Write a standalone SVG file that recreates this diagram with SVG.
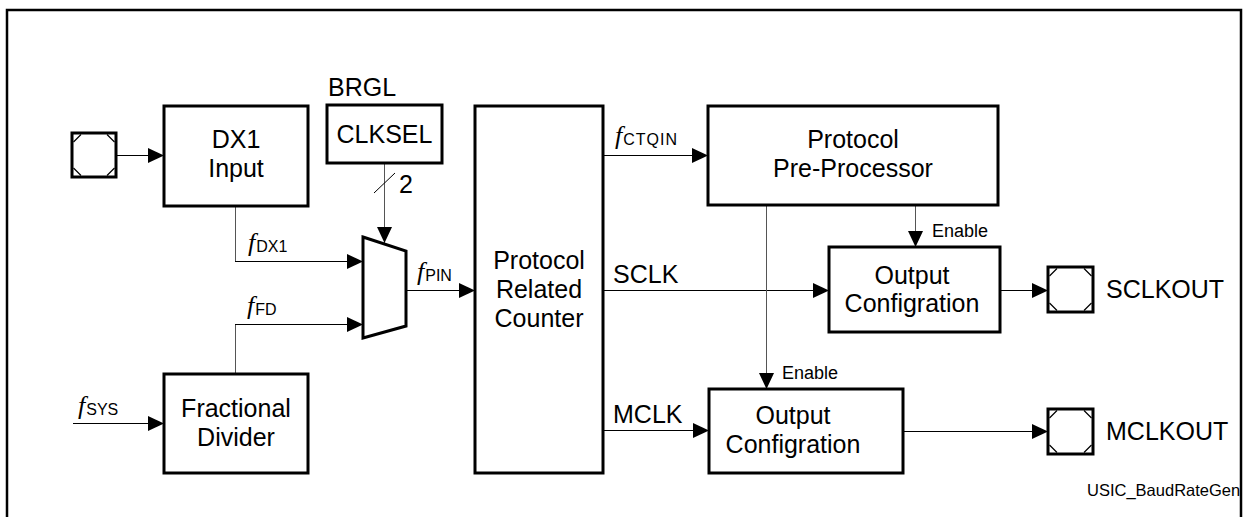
<svg xmlns="http://www.w3.org/2000/svg" width="1244" height="517" viewBox="0 0 1244 517">
<defs>
<style>
.box{fill:#fff;stroke:#000;stroke-width:3}
.t{font-family:"Liberation Sans",Arial,sans-serif;font-size:25px;fill:#000}
.tc{text-anchor:middle}
.sm{font-family:"Liberation Sans",Arial,sans-serif;font-size:18px;fill:#000}
.fi{font-family:"Liberation Serif","Times New Roman",serif;font-style:italic;font-size:26px}
.sub{font-family:"Liberation Sans",Arial,sans-serif;font-size:16px}
.ln{fill:none;stroke:#000;stroke-width:1}
.lg{fill:none;stroke:#555;stroke-width:1}
.pad{fill:#fff;stroke:#000;stroke-width:3}
.padc{stroke:#000;stroke-width:1.2}
</style>
<marker id="ah" markerUnits="userSpaceOnUse" markerWidth="16" markerHeight="15" refX="16" refY="7.5" orient="auto">
<path d="M0,0 L16,7.5 L0,15 z" fill="#000"/>
</marker>
</defs>
<rect width="1244" height="517" fill="#fff"/>
<text class="t" x="1087" y="496" style="font-size:16.5px">USIC_BaudRateGen</text>
<path d="M7,517 V10 H1241 V517" fill="none" stroke="#000" stroke-width="2.5"/>

<g id="connectors">
<path class="ln" d="M116,155.5 H164" marker-end="url(#ah)"/>
<path class="lg" d="M235.5,206 V261.5"/><path class="ln" d="M235,261.5 H363" marker-end="url(#ah)"/>
<path class="lg" d="M235.5,374 V324.5"/><path class="ln" d="M235,324.5 H363" marker-end="url(#ah)"/>
<path class="ln" d="M73,423.5 H164" marker-end="url(#ah)"/>
<path class="lg" d="M384.5,163 V243" marker-end="url(#ah)"/>
<path class="ln" d="M374,193 L395,173"/>
<path class="ln" d="M406,290.5 H475" marker-end="url(#ah)"/>
<path class="ln" d="M603,155.5 H708" marker-end="url(#ah)"/>
<path class="ln" d="M603,290.5 H829" marker-end="url(#ah)"/>
<path class="ln" d="M603,430.5 H709" marker-end="url(#ah)"/>
<path class="lg" d="M766.5,205 V389" marker-end="url(#ah)"/>
<path class="lg" d="M915.5,205 V247" marker-end="url(#ah)"/>
<path class="ln" d="M1000,290.5 H1048" marker-end="url(#ah)"/>
<path class="ln" d="M903,431.5 H1048" marker-end="url(#ah)"/>
</g>

<g id="labels">
<text x="248" y="251"><tspan class="fi">f</tspan><tspan class="sub" dx="1" dy="1">DX1</tspan></text>
<text x="247" y="314"><tspan class="fi">f</tspan><tspan class="sub" dx="1" dy="1">FD</tspan></text>
<text x="78" y="414"><tspan class="fi">f</tspan><tspan class="sub" dx="1" dy="1">SYS</tspan></text>
<text x="417" y="280"><tspan class="fi">f</tspan><tspan class="sub" dx="1" dy="1">PIN</tspan></text>
<text x="615" y="144"><tspan class="fi">f</tspan><tspan class="sub" dx="1" dy="1" letter-spacing="1">CTQIN</tspan></text>
<text class="t" x="613" y="283">SCLK</text>
<text class="t" x="613" y="423">MCLK</text>
<text class="t" x="399" y="193">2</text>
<text class="sm" x="932" y="237">Enable</text>
<text class="sm" x="782" y="379">Enable</text>
</g>

<g id="pad-in">
<rect class="pad" x="72" y="133" width="44" height="44"/>
<path class="padc" d="M73.5,142 L81,134.5 M107,134.5 L114.5,142 M114.5,168 L107,175.5 M81,175.5 L73.5,168"/>
</g>

<g id="dx1">
<rect class="box" x="164" y="106" width="144" height="100"/>
<text class="t tc" x="236" y="148">DX1</text>
<text class="t tc" x="236" y="177">Input</text>
</g>

<g id="clksel">
<text class="t" x="328" y="96">BRGL</text>
<rect class="box" x="327" y="105" width="115" height="58"/>
<text class="t tc" x="384.5" y="143">CLKSEL</text>
</g>

<g id="mux">
<path d="M363,237 L406,251 L406,326 L363,338 Z" fill="#fff" stroke="#000" stroke-width="3" stroke-linejoin="miter"/>
</g>

<g id="fd">
<rect class="box" x="164" y="374" width="144" height="99"/>
<text class="t tc" x="236" y="417">Fractional</text>
<text class="t tc" x="236" y="446">Divider</text>
</g>

<g id="prc">
<rect class="box" x="475" y="106" width="128" height="367"/>
<text class="t tc" x="539" y="269">Protocol</text>
<text class="t tc" x="539" y="298">Related</text>
<text class="t tc" x="539" y="327">Counter</text>
</g>

<g id="ppp">
<rect class="box" x="708" y="106" width="290" height="99"/>
<text class="t tc" x="853" y="148">Protocol</text>
<text class="t tc" x="853" y="177">Pre-Processor</text>
</g>

<g id="oc1">
<rect class="box" x="829" y="247" width="171" height="85"/>
<text class="t tc" x="912" y="284">Output</text>
<text class="t tc" x="912" y="312">Configration</text>
</g>

<g id="oc2">
<rect class="box" x="709" y="389" width="194" height="84"/>
<text class="t tc" x="793" y="424">Output</text>
<text class="t tc" x="793" y="453">Configration</text>
</g>

<g id="pad-sclkout">
<rect class="pad" x="1048" y="267" width="45" height="45"/>
<path class="padc" d="M1049.5,276 L1057,268.5 M1084,268.5 L1091.5,276 M1091.5,303 L1084,310.5 M1057,310.5 L1049.5,303"/>
<text class="t" x="1106" y="298">SCLKOUT</text>
</g>

<g id="pad-mclkout">
<rect class="pad" x="1048" y="409" width="45" height="45"/>
<path class="padc" d="M1049.5,418 L1057,410.5 M1084,410.5 L1091.5,418 M1091.5,445 L1084,452.5 M1057,452.5 L1049.5,445"/>
<text class="t" x="1106" y="440">MCLKOUT</text>
</g>
</svg>
